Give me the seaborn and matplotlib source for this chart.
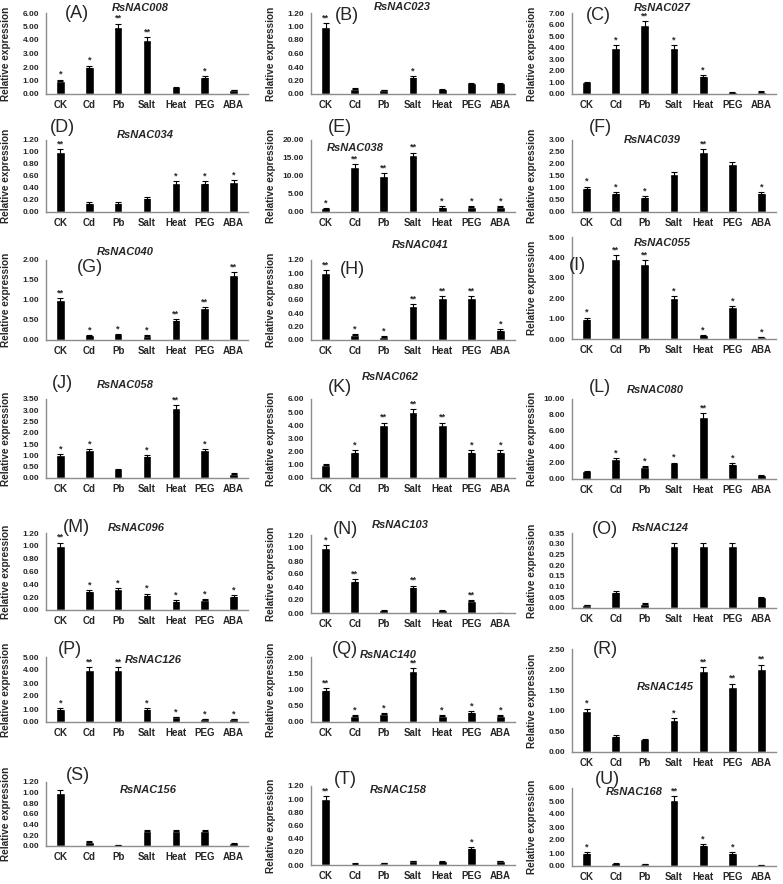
import matplotlib
matplotlib.use("Agg")
import matplotlib.pyplot as plt
import seaborn as sns
import pandas as pd
from matplotlib import font_manager

# ---------------- data ----------------
treatments = ["CK", "Cd", "Pb", "Salt", "Heat", "PEG", "ABA"]

nac008 = [1.00, 2.00, 5.00, 4.00, 0.50, 1.25, 0.30]
nac008_err = [0.06, 0.10, 0.22, 0.20, 0.03, 0.06, 0.02]
nac008_sig = ["*", "*", "**", "**", "", "*", ""]

nac023 = [1.00, 0.08, 0.06, 0.25, 0.07, 0.16, 0.16]
nac023_err = [0.05, 0.01, 0.005, 0.015, 0.01, 0.01, 0.01]
nac023_sig = ["**", "", "", "*", "", "", ""]

nac027 = [1.00, 4.00, 6.00, 4.00, 1.55, 0.15, 0.18]
nac027_err = [0.05, 0.20, 0.30, 0.20, 0.08, 0.03, 0.05]
nac027_sig = ["", "*", "**", "*", "*", "", ""]

nac034 = [1.00, 0.15, 0.15, 0.24, 0.48, 0.49, 0.50]
nac034_err = [0.05, 0.01, 0.01, 0.015, 0.03, 0.03, 0.03]
nac034_sig = ["**", "", "", "", "*", "*", "*"]

nac038 = [1.00, 12.60, 10.10, 15.80, 1.40, 1.50, 1.50]
nac038_err = [0.15, 0.70, 0.60, 0.70, 0.15, 0.15, 0.15]
nac038_sig = ["*", "**", "**", "**", "*", "*", "*"]

nac039 = [1.00, 0.80, 0.62, 1.60, 2.50, 2.00, 0.78]
nac039_err = [0.06, 0.04, 0.04, 0.08, 0.13, 0.10, 0.05]
nac039_sig = ["*", "*", "*", "", "**", "", "*"]

nac040 = [1.00, 0.12, 0.14, 0.11, 0.50, 0.79, 1.62]
nac040_err = [0.05, 0.01, 0.01, 0.01, 0.03, 0.04, 0.08]
nac040_sig = ["**", "*", "*", "*", "**", "**", "**"]

nac041 = [1.00, 0.08, 0.05, 0.51, 0.63, 0.63, 0.15]
nac041_err = [0.05, 0.01, 0.005, 0.03, 0.03, 0.03, 0.01]
nac041_sig = ["**", "*", "*", "**", "**", "**", "*"]

nac055 = [1.00, 3.90, 3.70, 2.00, 0.18, 1.55, 0.10]
nac055_err = [0.05, 0.20, 0.18, 0.10, 0.02, 0.08, 0.01]
nac055_sig = ["*", "**", "**", "*", "*", "*", "*"]

nac058 = [1.00, 1.22, 0.38, 0.98, 3.08, 1.22, 0.18]
nac058_err = [0.06, 0.07, 0.02, 0.05, 0.15, 0.06, 0.02]
nac058_sig = ["*", "*", "", "*", "**", "*", ""]

nac062 = [1.00, 2.00, 4.00, 5.00, 4.00, 2.00, 2.00]
nac062_err = [0.05, 0.10, 0.20, 0.25, 0.20, 0.10, 0.10]
nac062_sig = ["", "*", "**", "**", "**", "*", "*"]

nac080 = [0.95, 2.45, 1.55, 1.95, 7.80, 1.90, 0.45]
nac080_err = [0.05, 0.15, 0.10, 0.10, 0.40, 0.10, 0.03]
nac080_sig = ["", "*", "*", "*", "**", "*", ""]

nac096 = [1.00, 0.29, 0.32, 0.24, 0.14, 0.16, 0.22]
nac096_err = [0.05, 0.015, 0.02, 0.015, 0.01, 0.01, 0.01]
nac096_sig = ["**", "*", "*", "*", "*", "*", "*"]

nac103 = [1.00, 0.50, 0.04, 0.40, 0.04, 0.19, 0.005]
nac103_err = [0.05, 0.025, 0.005, 0.02, 0.005, 0.01, 0.001]
nac103_sig = ["*", "**", "", "**", "", "**", ""]

nac124 = [0.013, 0.075, 0.020, 0.290, 0.290, 0.290, 0.050]
nac124_err = [0.001, 0.004, 0.002, 0.015, 0.015, 0.015, 0.003]
nac124_sig = ["", "", "", "", "", "", ""]

nac126 = [1.00, 4.00, 4.00, 1.00, 0.38, 0.22, 0.22]
nac126_err = [0.05, 0.20, 0.20, 0.05, 0.02, 0.01, 0.01]
nac126_sig = ["*", "**", "**", "*", "*", "*", "*"]

nac140 = [1.00, 0.20, 0.25, 1.57, 0.20, 0.31, 0.20]
nac140_err = [0.05, 0.01, 0.015, 0.08, 0.01, 0.02, 0.01]
nac140_sig = ["**", "*", "*", "**", "*", "*", "*"]

nac145 = [1.00, 0.39, 0.31, 0.78, 1.96, 1.58, 2.02]
nac145_err = [0.05, 0.02, 0.015, 0.04, 0.10, 0.08, 0.10]
nac145_sig = ["*", "", "", "*", "**", "**", "**"]

nac156 = [1.00, 0.08, 0.02, 0.29, 0.29, 0.29, 0.05]
nac156_err = [0.05, 0.005, 0.002, 0.015, 0.015, 0.015, 0.004]
nac156_sig = ["", "", "", "", "", "", ""]

nac158 = [1.00, 0.02, 0.03, 0.06, 0.055, 0.26, 0.06]
nac158_err = [0.05, 0.003, 0.003, 0.004, 0.004, 0.015, 0.004]
nac158_sig = ["**", "", "", "", "", "*", ""]

nac168 = [1.00, 0.20, 0.14, 5.10, 1.60, 1.00, 0.06]
nac168_err = [0.05, 0.01, 0.01, 0.25, 0.08, 0.05, 0.005]
nac168_sig = ["*", "", "", "**", "*", "*", ""]

gene_names = ["RsNAC008", "RsNAC023", "RsNAC027", "RsNAC034", "RsNAC038", "RsNAC039",
              "RsNAC040", "RsNAC041", "RsNAC055", "RsNAC058", "RsNAC062", "RsNAC080",
              "RsNAC096", "RsNAC103", "RsNAC124", "RsNAC126", "RsNAC140", "RsNAC145",
              "RsNAC156", "RsNAC158", "RsNAC168"]
panel_letters = ["(A)", "(B)", "(C)", "(D)", "(E)", "(F)", "(G)", "(H)", "(I)", "(J)", "(K)",
                 "(L)", "(M)", "(N)", "(O)", "(P)", "(Q)", "(R)", "(S)", "(T)", "(U)"]
y_max = [6, 1.2, 7, 1.2, 20, 3, 2, 1.2, 5, 3.5, 6, 10, 1.2, 1.2, 0.35, 5, 2, 2.5, 1.2, 1.2, 6]
y_step = [1, 0.2, 1, 0.2, 5, 0.5, 0.5, 0.2, 1, 0.5, 1, 2, 0.2, 0.2, 0.05, 1, 0.5, 0.5, 0.2, 0.2, 1]

values = [nac008, nac023, nac027, nac034, nac038, nac039, nac040, nac041, nac055, nac058,
          nac062, nac080, nac096, nac103, nac124, nac126, nac140, nac145, nac156, nac158, nac168]
errors = [nac008_err, nac023_err, nac027_err, nac034_err, nac038_err, nac039_err, nac040_err,
          nac041_err, nac055_err, nac058_err, nac062_err, nac080_err, nac096_err, nac103_err,
          nac124_err, nac126_err, nac140_err, nac145_err, nac156_err, nac158_err, nac168_err]
signif = [nac008_sig, nac023_sig, nac027_sig, nac034_sig, nac038_sig, nac039_sig, nac040_sig,
          nac041_sig, nac055_sig, nac058_sig, nac062_sig, nac080_sig, nac096_sig, nac103_sig,
          nac124_sig, nac126_sig, nac140_sig, nac145_sig, nac156_sig, nac158_sig, nac168_sig]

# ---------------- layout (pixels) ----------------
W, H = 783, 884
cols = [(46, 248), (311, 515), (572, 776)]
# (top pixel of y_max, pixel of zero)
vert = [(13, 94), (13, 94), (13, 94),
        (140, 212), (140, 212), (140, 212),
        (260, 340), (260, 340), (237, 339),
        (399, 478), (399, 478), (399, 479),
        (533, 610), (535, 613), (533, 608),
        (657, 722), (657, 722), (649, 752),
        (782, 846), (786, 865), (788, 866)]
# panel letter position and gene title position (pixels)
letter_pos = [(77, 14), (347, 15), (598, 15),
              (62, 128), (340, 128), (600, 128),
              (90, 268), (352, 270), (577, 266),
              (62, 383), (340, 387), (600, 387),
              (76, 527), (346, 530), (605, 530),
              (70, 650), (345, 650), (605, 650),
              (78, 776), (345, 780), (607, 780)]
title_pos = [(140, 8), (402, 7), (662, 8),
             (145, 135), (355, 148), (652, 140),
             (125, 252), (420, 245), (662, 243),
             (125, 385), (390, 377), (655, 390),
             (136, 528), (400, 525), (660, 528),
             (153, 660), (388, 655), (665, 687),
             (148, 790), (398, 790), (634, 792)]

sns.set_style("white")
avail = {f.name for f in font_manager.fontManager.ttflist}
fam = ["Liberation Sans Narrow"] if "Liberation Sans Narrow" in avail else ["Liberation Sans"]
plt.rcParams["font.family"] = fam + ["DejaVu Sans"]
plt.rcParams["font.weight"] = "bold"

fig = plt.figure(figsize=(W / 100, H / 100), dpi=100)
fig.patch.set_facecolor("white")

spine_col = "#8c8c8c"
for i in range(21):
    c = i % 3
    l, r = cols[c]
    top, zero = vert[i]
    ax = fig.add_axes([l / W, 1 - zero / H, (r - l) / W, (zero - top) / H])
    df = pd.DataFrame({"treatment": treatments, "value": values[i]})
    sns.barplot(data=df, x="treatment", y="value", color="black", width=0.3,
                errorbar=None, ax=ax, saturation=1)
    xs = [p.get_x() + p.get_width() / 2 for p in ax.patches]
    ax.errorbar(xs, values[i], yerr=errors[i], fmt="none", ecolor="black",
                elinewidth=0.8, capsize=2.2, capthick=0.8)
    for x, v, e, s in zip(xs, values[i], errors[i], signif[i]):
        if s:
            ax.annotate(s, (x, v + e), xytext=(0, 0.5), textcoords="offset points",
                        ha="center", va="bottom", fontsize=6.5, fontweight="bold")
    ax.set_ylim(0, y_max[i])
    ticks = [k * y_step[i] for k in range(int(round(y_max[i] / y_step[i])) + 1)]
    ax.set_yticks(ticks)
    ax.set_yticklabels([f"{t:.2f}" for t in ticks], fontsize=6, fontweight="bold")
    ax.set_xticks(range(len(treatments)))
    ax.set_xticklabels(treatments, fontsize=7, fontweight="bold")
    ax.set_xlim(-0.5, 6.5)
    ax.set_xlabel("")
    ax.set_ylabel("Relative expression", fontsize=7.2, fontweight="bold")
    ax.yaxis.set_label_coords(-35 / (r - l), 0.5)
    for side in ["top", "right"]:
        ax.spines[side].set_visible(False)
    for side in ["left", "bottom"]:
        ax.spines[side].set_color(spine_col)
        ax.spines[side].set_linewidth(1.0)
    ax.tick_params(axis="y", direction="out", length=3, width=0.8, color=spine_col, pad=2)
    ax.tick_params(axis="x", length=0, pad=4)
    ax.set_facecolor("white")
    lx, ly = letter_pos[i]
    fig.text(lx / W, 1 - ly / H, panel_letters[i], fontsize=13, fontweight="normal",
             ha="center", va="center", family=["Liberation Sans", "DejaVu Sans"])
    tx, ty = title_pos[i]
    fig.text(tx / W, 1 - ty / H, gene_names[i], fontsize=8, fontweight="bold",
             fontstyle="italic", ha="center", va="center",
             family=["Liberation Sans", "DejaVu Sans"])

fig.savefig("out.png", dpi=100, facecolor="white")
